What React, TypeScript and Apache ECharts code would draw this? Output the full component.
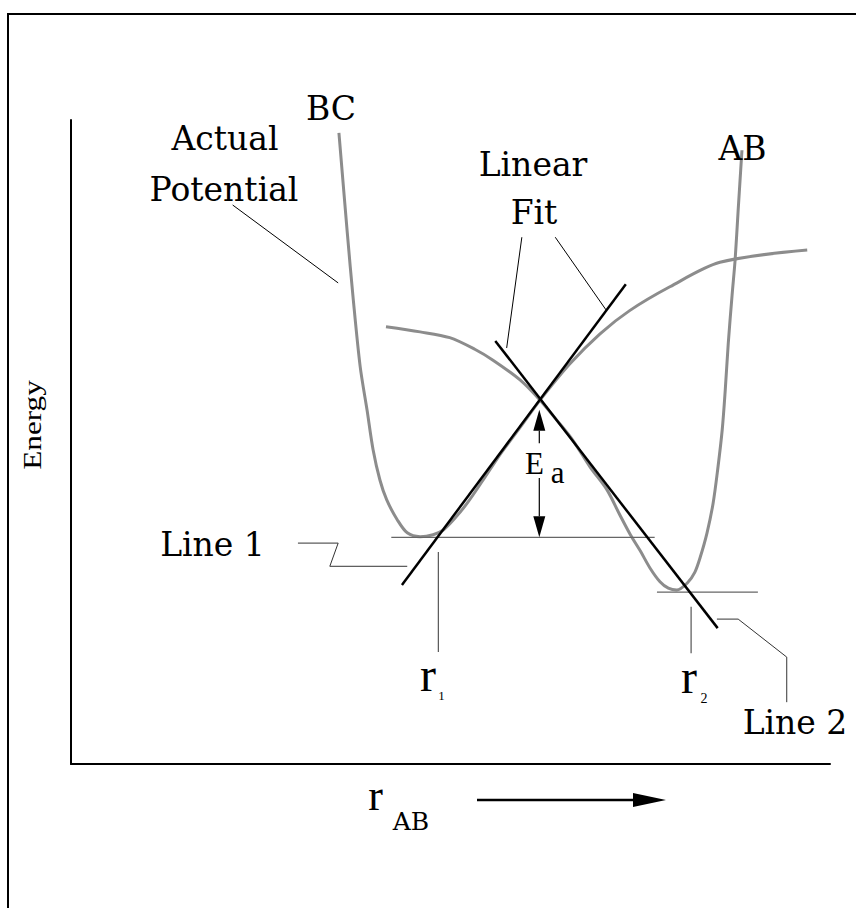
import React, { useEffect, useRef } from "react";
import * as echarts from "echarts";

// Potential-energy curves against the A–B separation (arbitrary units, 0–10 on both axes)
const bcCurve: [number, number][] = [
  [3.53, 9.8], [3.64, 8.25], [3.72, 7.2], [3.81, 6.17], [3.9, 5.5], [3.98, 4.88],
  [4.07, 4.41], [4.16, 4.1], [4.3, 3.79], [4.43, 3.59], [4.6, 3.53], [4.77, 3.56],
  [4.9, 3.63], [5.06, 3.82], [5.22, 4.05], [5.43, 4.41], [5.65, 4.8], [5.92, 5.23],
  [6.18, 5.65], [6.57, 6.21], [6.97, 6.68], [7.36, 7.04], [7.89, 7.41], [8.55, 7.79],
  [9.7, 7.98],
];

const abCurve: [number, number][] = [
  [4.15, 6.79], [4.6, 6.71], [4.99, 6.62], [5.32, 6.44], [5.56, 6.27], [5.92, 5.96],
  [6.18, 5.65], [6.4, 5.34], [6.61, 5.03], [6.84, 4.61], [7.06, 4.26], [7.23, 3.87],
  [7.37, 3.56], [7.5, 3.31], [7.63, 3.04], [7.76, 2.83], [7.87, 2.73], [7.98, 2.7],
  [8.12, 2.81], [8.22, 2.98], [8.29, 3.21], [8.38, 3.59], [8.46, 4.05], [8.52, 4.57],
  [8.58, 5.19], [8.62, 5.81], [8.66, 6.54], [8.71, 7.28], [8.75, 7.83], [8.79, 8.6],
  [8.84, 9.53],
];

// Linear fits through the crossing point
const line1Fit: [number, number][] = [[4.36, 2.78], [7.31, 7.45]];
const line2Fit: [number, number][] = [[5.59, 6.57], [8.52, 2.11]];

// Minimum levels and the r1 / r2 markers
const level1: [number, number][] = [[4.22, 3.52], [7.69, 3.52]];
const level2: [number, number][] = [[7.72, 2.67], [9.05, 2.67]];
const r1Tick: [number, number][] = [[4.84, 3.29], [4.84, 1.74]];
const r2Tick: [number, number][] = [[8.17, 2.44], [8.17, 1.72]];

// Leader lines from the labels
const leaderActual: [number, number][] = [[2.13, 8.68], [3.52, 7.47]];
const leaderFitLeft: [number, number][] = [[5.94, 8.18], [5.74, 6.46]];
const leaderFitRight: [number, number][] = [[6.38, 8.18], [7.05, 7.05]];
const leaderLine1: [number, number][] = [[2.99, 3.43], [3.52, 3.43], [3.41, 3.07], [4.43, 3.07]];
const leaderLine2: [number, number][] = [[8.51, 2.25], [8.79, 2.25], [9.43, 1.66], [9.43, 0.96]];

// Activation-energy arrow: x, upper tip, lower tip, text gap top, text gap bottom
const eaArrow = [6.17, 5.5, 3.52, 4.98, 4.44];

const WORD_FONT = '"DejaVu Serif", serif';
const SYM_FONT = '"Liberation Serif", "Times New Roman", serif';

type Pt = [number, number];

function segment(data: Pt[], color: string, width: number, z: number) {
  return {
    type: "line",
    data,
    symbol: "none",
    showSymbol: false,
    silent: true,
    clip: false,
    z,
    lineStyle: { color, width, cap: "butt", join: "miter" },
  };
}

function curve(data: Pt[]) {
  return {
    type: "line",
    data,
    symbol: "none",
    showSymbol: false,
    silent: true,
    clip: false,
    smooth: 0.3,
    z: 2,
    lineStyle: { color: "#8c8c8c", width: 3 },
  };
}

function label(
  text: string,
  x: number,
  y: number,
  size: number,
  family: string,
  extra: Record<string, unknown> = {}
) {
  return {
    type: "text",
    x,
    y,
    silent: true,
    z: 10,
    ...extra,
    style: {
      text,
      fill: "#000",
      fontSize: size,
      fontFamily: family,
      textAlign: "center",
      textVerticalAlign: "middle",
      align: "center",
      verticalAlign: "middle",
    },
  };
}

export default function App() {
  const ref = useRef<HTMLDivElement>(null);

  useEffect(() => {
    if (!ref.current) return;
    const chart = echarts.init(ref.current, null, { renderer: "svg" });

    const axisCommon = {
      type: "value",
      min: 0,
      max: 10,
      axisLine: { show: true, onZero: false, lineStyle: { color: "#000", width: 2 } },
      axisTick: { show: false },
      axisLabel: { show: false },
      splitLine: { show: false },
    };

    chart.setOption({
      animation: false,
      backgroundColor: "#fff",
      grid: { left: 71, right: 26, top: 120, bottom: 144 },
      xAxis: axisCommon,
      yAxis: axisCommon,
      series: [
        curve(bcCurve),
        curve(abCurve),
        segment(level1, "#666", 1.2, 3),
        segment(level2, "#666", 1.2, 3),
        segment(r1Tick, "#555", 1.2, 3),
        segment(r2Tick, "#555", 1.2, 3),
        segment(leaderActual, "#000", 1, 3),
        segment(leaderFitLeft, "#000", 1, 3),
        segment(leaderFitRight, "#000", 1, 3),
        segment(leaderLine1, "#333", 1, 3),
        segment(leaderLine2, "#333", 1, 3),
        segment(line1Fit, "#000", 2.5, 4),
        segment(line2Fit, "#000", 2.5, 4),
        {
          type: "custom",
          data: [eaArrow],
          clip: false,
          silent: true,
          z: 5,
          renderItem: (_params: unknown, api: any) => {
            const x = api.value(0);
            const tip = api.coord([x, api.value(1)]);
            const base = api.coord([x, api.value(2)]);
            const gapTop = api.coord([x, api.value(3)]);
            const gapBottom = api.coord([x, api.value(4)]);
            const len = 21;
            const half = 6;
            const stroke = { stroke: "#000", lineWidth: 1.2 };
            return {
              type: "group",
              children: [
                { type: "line", shape: { x1: tip[0], y1: tip[1] + len, x2: gapTop[0], y2: gapTop[1] }, style: stroke },
                { type: "line", shape: { x1: gapBottom[0], y1: gapBottom[1], x2: base[0], y2: base[1] - len }, style: stroke },
                {
                  type: "polygon",
                  shape: { points: [[tip[0], tip[1]], [tip[0] - half, tip[1] + len], [tip[0] + half, tip[1] + len]] },
                  style: { fill: "#000" },
                },
                {
                  type: "polygon",
                  shape: { points: [[base[0], base[1]], [base[0] - half, base[1] - len], [base[0] + half, base[1] - len]] },
                  style: { fill: "#000" },
                },
              ],
            };
          },
        },
      ],
      graphic: [
        // page frame
        {
          type: "rect",
          shape: { x: 8, y: 14, width: 900, height: 960 },
          style: { fill: "none", stroke: "#000", lineWidth: 2 },
          silent: true,
          z: 0,
        },
        // axis arrow for r_AB
        {
          type: "line",
          shape: { x1: 477, y1: 800, x2: 640, y2: 800 },
          style: { stroke: "#000", lineWidth: 2.5 },
          silent: true,
        },
        {
          type: "polygon",
          shape: { points: [[633, 793], [666, 800], [633, 807]] },
          style: { fill: "#000" },
          silent: true,
        },
        label("BC", 331, 108, 33, WORD_FONT),
        label("Actual", 225, 138.5, 33, WORD_FONT),
        label("Potential", 224, 189.5, 33, WORD_FONT),
        label("Linear", 533, 164.5, 33, WORD_FONT),
        label("Fit", 534, 212.5, 33, WORD_FONT),
        label("AB", 742.5, 148.5, 33, WORD_FONT),
        label("Line 1", 212.5, 544.5, 33, WORD_FONT),
        label("Line 2", 795, 722, 33, WORD_FONT),
        label("E", 534.5, 463, 31, SYM_FONT),
        label("a", 557.5, 472.5, 31, SYM_FONT),
        label("r", 428, 674, 48, SYM_FONT),
        label("1", 441.5, 695, 13, SYM_FONT),
        label("r", 689, 676, 48, SYM_FONT),
        label("2", 704, 698, 14, SYM_FONT),
        label("r", 375.5, 795, 44, SYM_FONT),
        label("AB", 411, 821.5, 25, WORD_FONT),
        label("Energy", 32, 425, 26, SYM_FONT, { rotation: Math.PI / 2, scaleX: 1.2 }),
      ],
    });

    return () => chart.dispose();
  }, []);

  return (
    <div
      ref={ref}
      style={{ position: "fixed", left: 0, top: 0, width: 856, height: 908, background: "#fff" }}
    />
  );
}
